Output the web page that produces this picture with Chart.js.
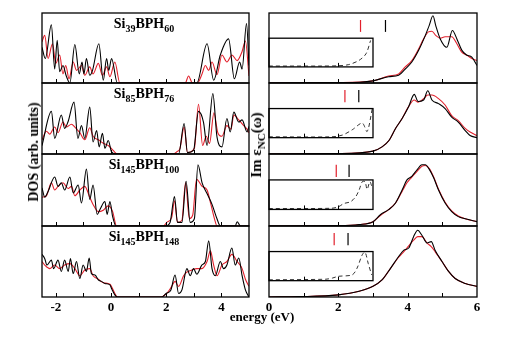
<!DOCTYPE html>
<html>
<head>
<meta charset="utf-8">
<script src="https://cdn.jsdelivr.net/npm/chart.js@4.4.0/dist/chart.umd.min.js"></script>
<style>
  body { margin: 0; background: #fff; width: 517px; height: 338px; position: relative; overflow: hidden;
         font-family: "Liberation Serif", "DejaVu Serif", serif; font-weight: bold; color: #000; }
  canvas { position: absolute; }
  .t { position: absolute; white-space: nowrap; font-size: 14px; line-height: 1; }
  .t sub { font-size: 10px; vertical-align: -4px; line-height: 1; }
</style>
</head>
<body>
<script>
// cluster names: Si_a BPH_b
const clusters = [['39', '60'], ['85', '76'], ['145', '100'], ['145', '148']];

// DOS (left column), [energy eV, arb. units]
const dosBlack1 = [[-2.5,0.51],[-2.38,0.35],[-2.16,0.83],[-2.04,0.2],[-1.95,0.61],[-1.86,0.16],[-1.74,0.25],[-1.62,0.1],[-1.49,0],[-1.31,0.55],[-1.15,0.13],[-1.05,0.3],[-0.98,0.13],[-0.89,0.35],[-0.77,0.11],[-0.67,0.18],[-0.44,0.56],[-0.28,0.04],[-0.16,0.35],[-0.08,0.18],[0.02,0.35],[0.23,0],[3.11,0],[3.48,0.56],[3.72,0.04],[3.96,0.4],[4.26,0.63],[4.47,0.06],[4.66,0.3],[4.75,0.2],[4.91,0.85],[5.0,0.25]];
const dosRed1 = [[-2.5,0.59],[-2.4,0.68],[-2.28,0.35],[-2.12,0.56],[-2.0,0.28],[-1.86,0.4],[-1.74,0.13],[-1.64,0.25],[-1.52,0.06],[-1.37,0.3],[-1.25,0.18],[-1.07,0.25],[-0.95,0.11],[-0.77,0.23],[-0.65,0.13],[-0.46,0.28],[-0.31,0.11],[-0.16,0.23],[-0.04,0.09],[0.14,0.3],[0.32,0],[2.69,0],[2.81,0.1],[2.95,0],[3.13,0],[3.29,0.12],[3.42,0.25],[3.54,0.18],[3.66,0.3],[3.84,0.12],[4.02,0.4],[4.2,0.3],[4.38,0.4],[4.57,0.32],[4.75,0.45],[4.87,0.6],[5.0,0.1]];
const dosBlack2 = [[-2.5,0.12],[-2.16,0.6],[-2.04,0.22],[-1.8,0.55],[-1.68,0.36],[-1.56,0.45],[-1.34,0.73],[-1.2,0.22],[-1.07,0.4],[-0.95,0.22],[-0.77,0.66],[-0.65,0.17],[-0.52,0.33],[-0.43,0.1],[-0.31,0.29],[-0.22,0.08],[-0.1,0.19],[0.02,0.03],[0.18,0],[2.45,0],[2.65,0.43],[2.77,0.02],[2.99,0.05],[3.17,0.6],[3.35,0.45],[3.48,0.12],[3.69,0.85],[3.84,0.24],[4.02,0.1],[4.2,0.5],[4.32,0.31],[4.45,0.59],[4.63,0.45],[4.75,0.48],[4.93,0.31],[5.0,0.39]];
const dosRed2 = [[-2.5,0.2],[-2.34,0.32],[-2.22,0.28],[-2.04,0.38],[-1.92,0.3],[-1.74,0.45],[-1.62,0.38],[-1.43,0.42],[-1.31,0.38],[-1.13,0.3],[-0.95,0.2],[-0.77,0.37],[-0.65,0.25],[-0.46,0.2],[-0.28,0.15],[-0.1,0.12],[0.08,0.05],[0.23,0],[2.26,0],[2.38,0.03],[2.5,0.08],[2.65,0.38],[2.77,0.02],[3.02,0.08],[3.17,0.7],[3.32,0.12],[3.45,0.25],[3.57,0.15],[3.73,0.58],[3.87,0.3],[4.02,0.25],[4.2,0.4],[4.35,0.35],[4.45,0.55],[4.63,0.48],[4.81,0.4],[4.93,0.35],[5.0,0.3]];
const dosBlack3 = [[-2.5,0.53],[-2.4,0.4],[-2.28,0.48],[-2.04,0.68],[-1.92,0.55],[-1.8,0.6],[-1.68,0.5],[-1.49,0.68],[-1.37,0.46],[-1.19,0.57],[-1.07,0.32],[-0.89,0.79],[-0.77,0.37],[-0.65,0.57],[-0.5,0.16],[-0.4,0.23],[-0.22,0.34],[-0.14,0.16],[-0.04,0.34],[0.06,0.13],[0.18,0],[1.96,0],[2.14,0.05],[2.3,0.41],[2.41,0.05],[2.57,0.05],[2.72,0.62],[2.87,0.05],[3.02,0.1],[3.15,0.85],[3.3,0.6],[3.48,0.45],[3.66,0.3],[3.84,0.1],[3.96,0],[4.5,0],[4.57,0.06],[4.69,0],[5.0,0]];
const dosRed3 = [[-2.5,0.4],[-2.34,0.42],[-2.16,0.6],[-2.04,0.5],[-1.92,0.55],[-1.74,0.6],[-1.55,0.52],[-1.43,0.55],[-1.31,0.42],[-1.13,0.5],[-0.95,0.55],[-0.77,0.4],[-0.65,0.3],[-0.46,0.2],[-0.28,0.22],[-0.1,0.28],[0.06,0.2],[0.2,0],[1.9,0],[2.02,0.05],[2.2,0.12],[2.3,0.35],[2.41,0.05],[2.57,0.08],[2.7,0.6],[2.84,0.1],[2.96,0.15],[3.1,0.65],[3.3,0.55],[3.48,0.5],[3.62,0.3],[3.75,0.1],[3.84,0],[5.0,0]];
const dosBlack4 = [[-2.5,0.6],[-2.4,0.54],[-2.32,0.45],[-2.16,0.52],[-2.08,0.4],[-1.92,0.52],[-1.8,0.36],[-1.68,0.52],[-1.55,0.36],[-1.47,0.54],[-1.37,0.33],[-1.25,0.5],[-1.13,0.26],[-1.01,0.45],[-0.89,0.36],[-0.79,0.55],[-0.71,0.33],[-0.58,0.31],[-0.46,0.24],[-0.34,0.22],[-0.22,0.19],[-0.04,0.17],[0.02,0.12],[0.14,0.03],[0.23,0],[1.84,0],[2.0,0.05],[2.17,0.1],[2.32,0.31],[2.45,0.05],[2.57,0.1],[2.75,0.4],[2.87,0.3],[2.99,0.4],[3.11,0.32],[3.29,0.45],[3.42,0.5],[3.54,0.79],[3.66,0.4],[3.78,0.3],[3.96,0.5],[4.08,0.4],[4.2,0.45],[4.38,0.69],[4.5,0.45],[4.63,0.55],[4.75,0.3],[4.87,0.1],[5.0,0]];
const dosRed4 = [[-2.5,0.5],[-2.4,0.45],[-2.22,0.4],[-2.04,0.45],[-1.86,0.4],[-1.68,0.45],[-1.49,0.47],[-1.31,0.4],[-1.13,0.3],[-0.95,0.38],[-0.77,0.4],[-0.65,0.3],[-0.46,0.25],[-0.28,0.2],[-0.04,0.18],[0.14,0.05],[0.23,0],[1.78,0],[2.02,0.05],[2.2,0.15],[2.32,0.22],[2.45,0.15],[2.63,0.3],[2.75,0.35],[2.93,0.38],[3.11,0.4],[3.29,0.4],[3.48,0.5],[3.6,0.65],[3.72,0.45],[3.84,0.3],[4.02,0.45],[4.2,0.5],[4.38,0.6],[4.57,0.5],[4.75,0.4],[4.87,0.25],[5.0,0.15]];

// Im eps_NC (right column), [energy eV, arb. units]
const epsBlack1 = [[0,0],[2.0,0.005],[2.6,0.01],[3.0,0.03],[3.45,0.09],[3.74,0.11],[3.93,0.2],[4.12,0.3],[4.32,0.47],[4.51,0.68],[4.62,0.82],[4.73,0.96],[4.81,0.82],[4.94,0.63],[5.13,0.51],[5.29,0.75],[5.42,0.63],[5.56,0.47],[5.7,0.4],[5.85,0.37],[6.0,0.25]];
const epsRed1 = [[0,0],[2.0,0.005],[3.0,0.03],[3.45,0.1],[3.74,0.13],[3.93,0.23],[4.12,0.32],[4.32,0.49],[4.46,0.63],[4.6,0.73],[4.7,0.74],[4.81,0.68],[4.94,0.64],[5.08,0.66],[5.27,0.66],[5.42,0.56],[5.56,0.44],[5.7,0.4],[5.85,0.35],[6.0,0.32]];
const epsBlack2 = [[0,0],[2.0,0.005],[3.0,0.04],[3.26,0.1],[3.46,0.19],[3.65,0.36],[3.84,0.5],[4.03,0.67],[4.19,0.84],[4.3,0.74],[4.46,0.76],[4.58,0.89],[4.7,0.76],[4.89,0.71],[5.08,0.64],[5.27,0.52],[5.46,0.45],[5.66,0.33],[5.8,0.26],[6.0,0.23]];
const epsRed2 = [[0,0],[2.0,0.005],[3.0,0.04],[3.26,0.1],[3.46,0.19],[3.65,0.36],[3.84,0.5],[4.03,0.67],[4.19,0.76],[4.3,0.73],[4.46,0.78],[4.58,0.83],[4.7,0.83],[4.89,0.78],[5.08,0.69],[5.27,0.54],[5.46,0.47],[5.66,0.36],[5.8,0.31],[6.0,0.26]];
const epsBlack3 = [[0,0],[2.0,0.005],[2.6,0.02],[3.0,0.06],[3.22,0.16],[3.46,0.23],[3.65,0.32],[3.84,0.5],[3.98,0.64],[4.12,0.69],[4.27,0.78],[4.41,0.85],[4.51,0.85],[4.62,0.79],[4.75,0.67],[4.89,0.5],[5.08,0.32],[5.27,0.2],[5.46,0.13],[5.66,0.1],[6.0,0.06]];
const epsRed3 = [[0,0],[2.0,0.005],[2.6,0.02],[3.0,0.06],[3.22,0.15],[3.46,0.23],[3.65,0.32],[3.84,0.48],[3.98,0.6],[4.12,0.68],[4.27,0.76],[4.41,0.83],[4.51,0.84],[4.62,0.8],[4.75,0.68],[4.89,0.51],[5.08,0.33],[5.27,0.21],[5.46,0.14],[5.66,0.1],[6.0,0.06]];
const epsBlack4 = [[0,0],[0.87,0.005],[2.0,0.03],[2.6,0.08],[3.0,0.15],[3.26,0.24],[3.5,0.4],[3.74,0.57],[3.89,0.66],[4.03,0.69],[4.17,0.85],[4.29,0.94],[4.41,0.87],[4.56,0.76],[4.68,0.78],[4.79,0.66],[4.99,0.5],[5.18,0.36],[5.37,0.26],[5.66,0.19],[6.0,0.15]];
const epsRed4 = [[0,0],[0.87,0.005],[2.0,0.03],[2.6,0.08],[3.0,0.15],[3.26,0.24],[3.5,0.4],[3.74,0.56],[3.89,0.64],[4.03,0.72],[4.17,0.8],[4.29,0.85],[4.41,0.85],[4.56,0.76],[4.68,0.71],[4.79,0.64],[4.99,0.5],[5.18,0.36],[5.37,0.26],[5.66,0.19],[6.0,0.15]];

// inset curves (dashed), x in main energy units, y in inset units
const inset1 = [[0,0.03],[1.5,0.03],[2.0,0.04],[2.3,0.08],[2.6,0.23],[2.8,0.46],[2.93,0.92]];
const inset2 = [[0,0.03],[1.8,0.03],[2.12,0.09],[2.4,0.27],[2.69,0.5],[2.83,0.21],[2.98,1.0]];
const inset3 = [[0,0.03],[1.8,0.04],[2.0,0.09],[2.16,0.2],[2.35,0.26],[2.5,0.43],[2.6,0.66],[2.69,0.94],[2.77,0.94],[2.83,0.68],[2.91,0.94],[2.96,0.8]];
const inset4 = [[0,0.03],[1.64,0.05],[1.83,0.09],[2.0,0.15],[2.4,0.2],[2.54,0.43],[2.69,0.89],[2.77,0.98],[2.86,0.6],[2.96,0.2]];

// gap markers (eV)
const markRed = [2.64, 2.19, 1.94, 1.88];
const markBlack = [3.36, 2.59, 2.31, 2.28];
const markTop = [0.9, 0.9, 0.85, 0.9];

const dosTicks = [-2, -1, 0, 1, 2, 3, 4];
const dosLabels = [-2, 0, 2, 4];
const epsTicks = [1, 2, 3, 4, 5];
const epsLabels = [0, 2, 4, 6];
const insetTicks = [1, 2];

const RED = '#e2202c';
const FONT = '"Liberation Serif", "DejaVu Serif", serif';
const panelY = [13, 83, 154, 226, 297];
const PAD = 8, AX = 20;
const INSET_LO = 0.23, INSET_HI = 0.64, INSET_R = 3;

const pts = a => a.map(p => ({ x: p[0], y: p[1] }));

const framePlugin = {
  id: 'frame',
  afterDatasetsDraw(chart, args, opts) {
    const { ctx, chartArea: a, scales } = chart;
    ctx.save();
    ctx.strokeStyle = '#000';
    ctx.lineWidth = 1.3;
    ctx.strokeRect(a.left, a.top, a.right - a.left, a.bottom - a.top);
    ctx.beginPath();
    ctx.lineWidth = 1;
    opts.ticks.forEach(v => {
      const x = Math.round(scales.x.getPixelForValue(v)) + 0.5;
      ctx.moveTo(x, a.bottom); ctx.lineTo(x, a.bottom - 4);
    });
    if (opts.inset) {
      const yb = scales.yi.getPixelForValue(0);
      insetTicks.forEach(v => {
        const x = Math.round(scales.x.getPixelForValue(v)) + 0.5;
        ctx.moveTo(x, yb); ctx.lineTo(x, yb - 4);
      });
    }
    ctx.stroke();
    if (opts.inset) {
      const xl = scales.x.getPixelForValue(0), xr = scales.x.getPixelForValue(INSET_R);
      const yb = scales.yi.getPixelForValue(0), yt = scales.yi.getPixelForValue(1);
      ctx.lineWidth = 1.3;
      ctx.strokeRect(xl, yt, xr - xl, yb - yt);
    }
    ctx.restore();
  }
};

function makePanel(kind, i, black, red, inset) {
  const dos = kind === 'dos';
  const x0 = dos ? 42 : 269, x1 = dos ? 249 : 477;
  const y0 = panelY[i], y1 = panelY[i + 1];
  const last = i === 3;
  const cv = document.createElement('canvas');
  cv.width = x1 - x0 + 2 * PAD;
  cv.height = y1 - y0 + 2 * PAD + (last ? AX : 0);
  cv.style.left = (x0 - PAD) + 'px';
  cv.style.top = (y0 - PAD) + 'px';
  document.body.appendChild(cv);

  const line = (data, color) => ({ data: pts(data), borderColor: color, borderWidth: 1.1, pointRadius: 0,
    cubicInterpolationMode: 'monotone', fill: false });
  const datasets = [line(black, '#000'), line(red, RED)];
  if (!dos) {
    datasets.push({ data: [{ x: markRed[i], y: markTop[i] - 0.17 }, { x: markRed[i], y: markTop[i] }],
      borderColor: RED, borderWidth: 1.2, pointRadius: 0 });
    datasets.push({ data: [{ x: markBlack[i], y: markTop[i] - 0.17 }, { x: markBlack[i], y: markTop[i] }],
      borderColor: '#000', borderWidth: 1.2, pointRadius: 0 });
    datasets.push({ data: pts(inset), yAxisID: 'yi', borderColor: '#333', borderWidth: 1,
      borderDash: [4, 3], pointRadius: 0, tension: 0.3 });
  }
  const span = 1 / (INSET_HI - INSET_LO);
  const labels = dos ? dosLabels : epsLabels;

  new Chart(cv, {
    type: 'line',
    data: { datasets },
    options: {
      responsive: false,
      animation: false,
      events: [],
      layout: { padding: PAD },
      plugins: { legend: { display: false }, tooltip: { enabled: false },
        frame: { ticks: dos ? dosTicks : epsTicks, inset: !dos } },
      scales: {
        x: {
          type: 'linear', min: dos ? -2.5 : 0, max: dos ? 5 : 6, display: last,
          afterBuildTicks: s => { s.ticks = labels.map(v => ({ value: v })); },
          afterFit: s => { if (last) s.height = AX; },
          grid: { display: false, drawTicks: false }, border: { display: false },
          ticks: { color: '#000', padding: 3, maxRotation: 0, autoSkip: false,
            font: { family: FONT, size: 13, weight: 'bold' } }
        },
        y: { min: 0, max: 1, display: false },
        yi: { min: -INSET_LO * span, max: (1 - INSET_LO) * span, display: false }
      }
    },
    plugins: [framePlugin]
  });
}

const dosSets = [[dosBlack1, dosRed1], [dosBlack2, dosRed2], [dosBlack3, dosRed3], [dosBlack4, dosRed4]];
const epsSets = [[epsBlack1, epsRed1, inset1], [epsBlack2, epsRed2, inset2], [epsBlack3, epsRed3, inset3], [epsBlack4, epsRed4, inset4]];
dosSets.forEach((s, i) => makePanel('dos', i, s[0], s[1]));
epsSets.forEach((s, i) => makePanel('eps', i, s[0], s[1], s[2]));

function addText(html, css) {
  const d = document.createElement('div');
  d.className = 't';
  d.innerHTML = html;
  Object.assign(d.style, css);
  document.body.appendChild(d);
}
clusters.forEach((c, i) => addText('Si<sub>' + c[0] + '</sub>BPH<sub>' + c[1] + '</sub>',
  { left: '144px', top: (panelY[i] + 4) + 'px', transform: 'translateX(-50%)' }));
addText('DOS (arb. units)', { left: '34px', top: '152px', transform: 'translate(-50%,-50%) rotate(-90deg)' });
addText('Im &epsilon;<sub style="font-size:11px">NC</sub>(&omega;)', { left: '258px', top: '145px', fontSize: '15px',
  transform: 'translate(-50%,-50%) rotate(-90deg)' });
addText('energy (eV)', { left: '262px', top: '310px', fontSize: '13px', transform: 'translateX(-50%)' });
</script>
</body>
</html>
